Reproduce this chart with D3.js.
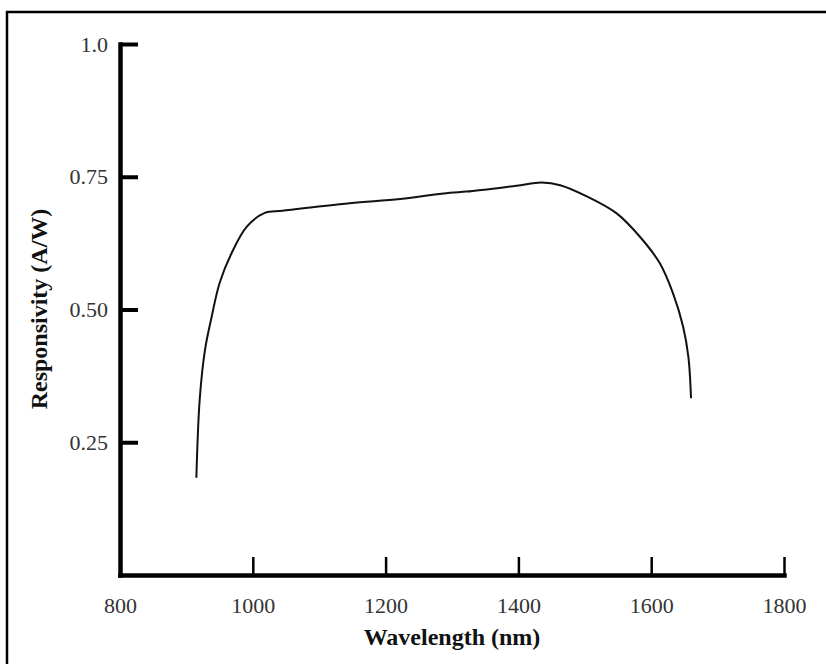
<!DOCTYPE html>
<html>
   <head>
      <script src="https://d3js.org/d3.v7.min.js"></script>
   </head>

   <style>
      body {
         margin: 0;
         background: #fff;
      }

      svg text {
         font-family: "Liberation Serif", "Times New Roman", serif;
      }

      .axis path,
      .axis line {
         stroke: #000;
      }

      .axis text {
         fill: #333;
         font-size: 22px;
      }

      .title {
         font-weight: bold;
         font-size: 24px;
         fill: #111;
      }
   </style>
   <body>
      <svg id="svg-container" width="826" height="664"></svg>

      <script>
         let svg = d3.select('#svg-container');

         // Responsivity curve
         let wavelength = [915, 920, 928, 938, 950, 968, 991, 1018, 1045, 1146, 1222, 1297, 1322, 1397, 1435, 1463, 1503, 1548, 1583, 1613, 1633, 1648, 1656, 1660];
         let responsivity = [0.183, 0.33, 0.424, 0.486, 0.55, 0.606, 0.656, 0.682, 0.686, 0.700, 0.708, 0.72, 0.722, 0.733, 0.739, 0.734, 0.713, 0.681, 0.637, 0.587, 0.530, 0.468, 0.411, 0.333];

         let xTicks = [800, 1000, 1200, 1400, 1600, 1800];
         let yTicks = [0.25, 0.5, 0.75, 1.0];
         let yTickLabels = ['0.25', '0.50', '0.75', '1.0'];

         let plotLeft = 120, plotRight = 784, plotTop = 44, plotBottom = 575;

         let x = d3.scaleLinear().domain([800, 1800]).range([plotLeft, plotRight]);
         let y = d3.scaleLinear().domain([0, 1]).range([plotBottom, plotTop]);

         // frame round the figure (runs off the right and bottom)
         svg.append('rect')
            .attr('x', 7)
            .attr('y', 12)
            .attr('width', 900)
            .attr('height', 800)
            .attr('fill', 'none')
            .attr('stroke', '#000')
            .attr('stroke-width', 2.5);

         // x axis, ticks pointing up into the plot
         let xAxis = svg.append('g')
            .attr('class', 'axis')
            .attr('transform', `translate(0, ${plotBottom})`)
            .call(d3.axisBottom(x).tickValues(xTicks).tickFormat(d3.format('d')).tickSizeInner(-18).tickSizeOuter(0).tickPadding(22));
         xAxis.selectAll('line').attr('stroke-width', 2.5);
         xAxis.select('.domain').attr('stroke-width', 4.5).attr('stroke-linecap', 'square');

         // y axis, ticks pointing right
         let yAxis = svg.append('g')
            .attr('class', 'axis')
            .attr('transform', `translate(${plotLeft}, 0)`)
            .call(d3.axisLeft(y).tickValues(yTicks).tickFormat((d, i) => yTickLabels[i]).tickSizeInner(-18).tickSizeOuter(0).tickPadding(12));
         yAxis.selectAll('line').attr('stroke-width', 4);
         yAxis.select('.domain').attr('stroke-width', 4.5).attr('stroke-linecap', 'square');

         // curve
         let line = d3.line()
            .x((d, i) => x(wavelength[i]))
            .y((d, i) => y(responsivity[i]))
            .curve(d3.curveCatmullRom.alpha(0.5));

         svg.append('path')
            .datum(responsivity)
            .attr('d', line)
            .attr('fill', 'none')
            .attr('stroke', '#111')
            .attr('stroke-width', 2);

         // axis titles
         svg.append('text')
            .attr('class', 'title')
            .attr('x', (plotLeft + plotRight) / 2)
            .attr('y', 645)
            .attr('text-anchor', 'middle')
            .text('Wavelength (nm)');

         svg.append('text')
            .attr('class', 'title')
            .attr('transform', 'translate(47, 309) rotate(-90)')
            .attr('text-anchor', 'middle')
            .text('Responsivity (A/W)');
      </script>
   </body>
</html>
